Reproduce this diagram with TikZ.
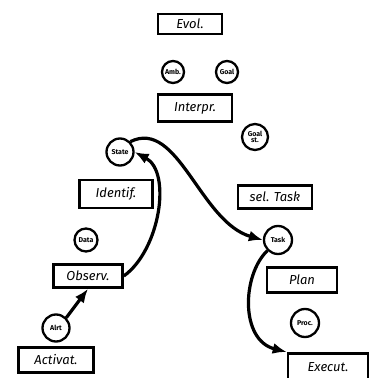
\documentclass[tikz,border=0pt]{standalone}
\usepackage{fontspec}
\setsansfont{Fira Sans}
\usetikzlibrary{arrows.meta}
\begin{document}
\begin{tikzpicture}[x=1pt,y=-1pt,
  box/.style={draw,line width=2.6pt,minimum height=22pt,inner sep=2pt,font=\sffamily\itshape\fontsize{13}{13}\selectfont},
  circ/.style={draw,circle,line width=2.3pt,minimum size=24pt,inner sep=0pt,font=\sffamily\bfseries\fontsize{7}{6.5}\selectfont,align=center},
  arr/.style={line width=3.2pt,-{Latex[length=14pt,width=11pt]}}]
\useasboundingbox (0,0) rectangle (377,378);
\node[box,minimum width=64pt,minimum height=20pt] (evol) at (190,24) {Evol.};
\node[circ,minimum size=22pt] (amb) at (173,72) {Amb.};
\node[circ,minimum size=22pt] (goal) at (227,72) {Goal};
\node[box,minimum width=74pt,minimum height=27pt] (interp) at (195,108) {Interpr.};
\node[circ,minimum size=26pt] (goalst) at (255,137) {Goal\\st.};
\node[circ,minimum size=27pt] (state) at (120,152) {State};
\node[box,minimum width=73pt,minimum height=28pt] (ident) at (116,194) {Identif.};
\node[circ,minimum size=23pt] (data) at (86,240) {Data};
\node[box,minimum width=69pt,minimum height=23pt] (obs) at (88,276) {Observ.};
\node[circ,minimum size=27pt] (alrt) at (56,328) {Alrt};
\node[box,minimum width=75pt,minimum height=25pt] (act) at (56,360) {Activat.};
\node[box,minimum width=74pt,minimum height=23pt] (sel) at (275,197) {sel. Task};
\node[circ,minimum size=28pt] (task) at (278,240) {Task};
\node[box,minimum width=70pt,minimum height=25pt] (plan) at (302,280) {Plan};
\node[circ,minimum size=28pt] (proc) at (305,323) {Proc.};
\node[box,minimum width=80pt,minimum height=28pt,anchor=north] (exe) at (328,352) {Execut.};
\draw[arr] (alrt.north east) -- (obs.south);
\draw[arr] (obs.east) .. controls (160,250) and (172,172) .. (state.east);
\draw[arr] (state.north east) .. controls (178,118) and (200,222) .. (task.west);
\draw[arr] (task.south west) .. controls (242,275) and (240,340) .. (exe.north west);
\end{tikzpicture}
\end{document}
